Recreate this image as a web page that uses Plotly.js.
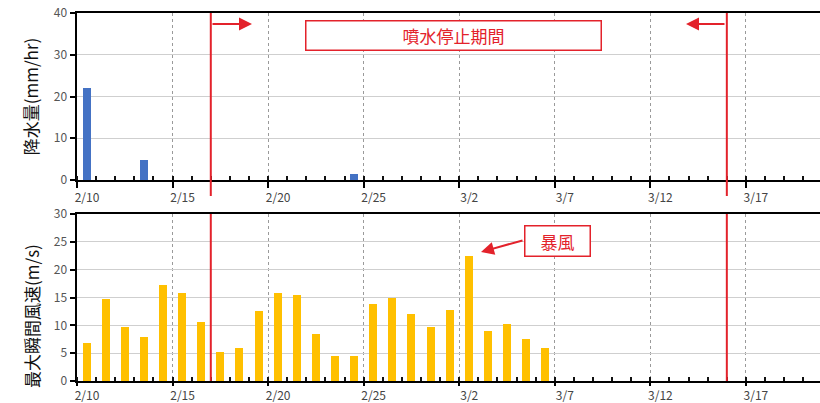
<!DOCTYPE html>
<html><head><meta charset="utf-8">
<script src="https://cdn.plot.ly/plotly-3.0.1.min.js"></script>
<style>html,body{margin:0;padding:0;background:#fff;}</style>
</head><body><div id="chart" style="width:820px;height:403px;"></div>
<script>
// ---- data ----
const rainDates = ['2021-02-10','2021-02-13','2021-02-24'];
const rainValues = [22.0, 4.8, 1.4];

const windDates = ['2021-02-10','2021-02-11','2021-02-12','2021-02-13','2021-02-14','2021-02-15','2021-02-16',
  '2021-02-17','2021-02-18','2021-02-19','2021-02-20','2021-02-21','2021-02-22','2021-02-23','2021-02-24',
  '2021-02-25','2021-02-26','2021-02-27','2021-02-28','2021-03-01','2021-03-02','2021-03-03','2021-03-04',
  '2021-03-05','2021-03-06'];
const windValues = [6.8,14.8,9.7,7.9,17.3,15.8,10.6,5.2,6.0,12.6,15.8,15.4,8.4,4.5,4.5,13.9,15.0,12.1,9.7,12.8,22.4,9.0,10.3,7.5,6.0];

const stopPeriod = ['2021-02-17','2021-03-16'];   // 噴水停止期間 start / end
const xRange = ['2021-02-10 00:00','2021-03-20 21:00'];
const rainTicks = [0,10,20,30,40];
const windTicks = [0,5,10,15,20,25,30];

const RED = '#e3222b';
const DAY = 86400000;
const FONT = '"Noto Sans CJK JP", "Liberation Sans", sans-serif';

const traces = [
  {type:'bar', x:rainDates, y:rainValues, xperiod:DAY, xperiodalignment:'middle', width:0.42*DAY,
   marker:{color:'#4472c4'}, xaxis:'x', yaxis:'y', hoverinfo:'x+y'},
  {type:'bar', x:windDates, y:windValues, xperiod:DAY, xperiodalignment:'middle', width:0.42*DAY,
   marker:{color:'#ffc000'}, xaxis:'x2', yaxis:'y2', hoverinfo:'x+y'}
];

function xax(anchor, ticklen){
  return {
    type:'date', range:xRange, anchor:anchor,
    tick0:'2021-02-10', dtick:5*DAY, tickformat:'%-m/%-d',
    ticks:'outside', ticklen:ticklen, tickwidth:2, tickcolor:'#000',
    minor:{dtick:DAY, ticks:'inside', ticklen:4, tickwidth:2, tickcolor:'#111', showgrid:false},
    ticklabelshift:10,
    showline:true, linecolor:'#000', linewidth:2, mirror:true,
    showgrid:true, gridcolor:'#9a9a9a', griddash:'dot', gridwidth:1,
    tickfont:{family:FONT, size:12, color:'#444'}, zeroline:false, fixedrange:true
  };
}
function yax(domain, range, ticks, title){
  return {
    domain:domain, range:range, tickvals:ticks,
    ticks:'outside', ticklen:5, tickwidth:2, tickcolor:'#000',
    showline:true, linecolor:'#000', linewidth:2.5,
    showgrid:true, gridcolor:'#cfcfcf', gridwidth:1,
    zeroline:false, tickfont:{family:FONT, size:12, color:'#555'},
    title:{text:title, font:{family:FONT, size:17, color:'#111'}, standoff:11},
    automargin:false, fixedrange:true
  };
}

const ya = yax([0.5462,1],[0,40],rainTicks,'降水量(mm/hr)'); ya.anchor='x';
const ya2 = yax([0,0.4538],[0,30],windTicks,''); ya2.anchor='x2';

const pxX = p => (p-77)/743;
const pxY = p => (381-p)/368;

const shapes = [];
stopPeriod.forEach(d=>{
  shapes.push({type:'line', xref:'x', yref:'paper', x0:d, x1:d, y0:pxY(196), y1:pxY(13), line:{color:RED, width:2}});
  shapes.push({type:'line', xref:'x2', yref:'paper', x0:d, x1:d, y0:pxY(381), y1:pxY(214), line:{color:RED, width:2}});
});

const annotations = [
  // bottom y-axis title (placed lower than the panel centre, as in the reference)
  {xref:'paper', yref:'paper', x:pxX(31), y:pxY(316), text:'最大瞬間風速(m/s)', showarrow:false,
   textangle:-90, font:{family:FONT, size:17, color:'#111'}, xanchor:'center', yanchor:'middle'},
  {xref:'paper', yref:'paper', x:pxX(252), y:pxY(24), ax:-41, ay:0, text:'', showarrow:true,
   arrowhead:2, arrowsize:1.3, arrowwidth:2, arrowcolor:RED},
  {xref:'paper', yref:'paper', x:pxX(686), y:pxY(24), ax:40, ay:0, text:'', showarrow:true,
   arrowhead:2, arrowsize:1.3, arrowwidth:2, arrowcolor:RED},
  {xref:'paper', yref:'paper', x:pxX(453), y:pxY(35), text:'噴水停止期間', showarrow:false,
   width:292, height:26, bgcolor:'#fff', bordercolor:RED, borderwidth:1.5, borderpad:1,
   font:{family:FONT, size:17, color:RED}, xanchor:'center', yanchor:'middle'},
  {xref:'paper', yref:'paper', x:pxX(481), y:pxY(252), ax:43, ay:-12, text:'', showarrow:true,
   arrowhead:2, arrowsize:1.3, arrowwidth:2, arrowcolor:RED},
  {xref:'paper', yref:'paper', x:pxX(557), y:pxY(241), text:'暴風', showarrow:false,
   width:62, height:27, bgcolor:'#fff', bordercolor:RED, borderwidth:1.5, borderpad:1,
   font:{family:FONT, size:17, color:RED}, xanchor:'center', yanchor:'middle'}
];

const layout = {
  width:820, height:403,
  margin:{l:77, r:0, t:13, b:22},
  paper_bgcolor:'#fff', plot_bgcolor:'#fff',
  showlegend:false, bargap:0,
  xaxis: Object.assign(xax('y', 6), {domain:[0,1]}),
  xaxis2: Object.assign(xax('y2', 3), {domain:[0,1]}),
  yaxis: ya, yaxis2: ya2,
  shapes:shapes, annotations:annotations,
  font:{family:FONT}
};

Plotly.newPlot('chart', traces, layout, {displayModeBar:false, staticPlot:true});
</script></body></html>
